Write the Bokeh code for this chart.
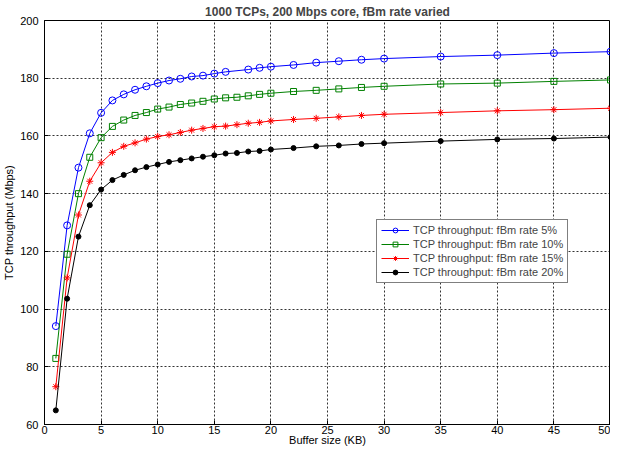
from bokeh.plotting import figure
from bokeh.embed import file_html
from bokeh.resources import INLINE
from bokeh.models import Range1d, FixedTicker, Legend, LegendItem

# ---- data ----
buffer_kb_5 = [1, 2, 3, 4, 5, 6, 7, 8, 9, 10, 11, 12, 13, 14, 15, 16,
               18, 19, 20, 22, 24, 26, 28, 30, 35, 40, 45, 50]
buffer_kb = [1, 2, 3, 4, 5, 6, 7, 8, 9, 10, 11, 12, 13, 14, 15, 16, 17,
             18, 19, 20, 22, 24, 26, 28, 30, 35, 40, 45, 50]

tput_5 = [94.1, 129.0, 149.0, 160.9, 168.0, 172.3, 174.4, 176.0, 177.2, 178.3,
          179.2, 179.8, 180.6, 180.9, 181.6, 182.2, 183.0, 183.6, 184.0,
          184.6, 185.4, 185.9, 186.4, 186.8, 187.5, 188.0, 188.7, 189.2]
tput_10 = [82.9, 119.0, 140.0, 152.6, 159.4, 163.3, 165.5, 167.1, 168.1, 169.3,
           170.0, 170.9, 171.4, 172.0, 172.8, 173.2, 173.4, 173.9, 174.4, 174.8,
           175.4, 175.8, 176.3, 176.8, 177.2, 178.0, 178.3, 178.9, 179.4]
tput_15 = [73.1, 110.8, 132.6, 144.3, 150.7, 154.3, 156.4, 157.6, 158.9, 159.8,
           160.4, 161.2, 162.0, 162.6, 163.2, 163.4, 163.9, 164.4, 164.7, 165.2,
           165.7, 166.1, 166.6, 167.1, 167.5, 168.1, 168.7, 169.1, 169.6]
tput_20 = [64.9, 103.6, 125.1, 136.0, 141.4, 144.7, 146.5, 148.1, 149.2, 150.1,
           151.0, 151.6, 152.2, 152.8, 153.3, 153.9, 154.1, 154.6, 154.8, 155.3,
           155.8, 156.4, 156.7, 157.2, 157.5, 158.2, 158.8, 159.1, 159.6]

labels = ["TCP throughput: fBm rate 5%", "TCP throughput: fBm rate 10%",
          "TCP throughput: fBm rate 15%", "TCP throughput: fBm rate 20%"]
x_ticks = [0, 5, 10, 15, 20, 25, 30, 35, 40, 45, 50]
y_ticks = [60, 80, 100, 120, 140, 160, 180, 200]

FONT = "Liberation Sans"

p = figure(width=610, height=448, output_backend="svg", toolbar_location=None,
           x_range=Range1d(0, 50), y_range=Range1d(60, 200),
           min_border_left=42, min_border_right=0, min_border_top=0, min_border_bottom=0)

p.background_fill_color = "white"
p.border_fill_color = "white"
p.outline_line_color = "black"
p.outline_line_width = 1

p.title.text = "1000 TCPs, 200 Mbps core, fBm rate varied"
p.title.text_font = FONT
p.title.text_font_size = "12px"
p.title.text_font_style = "bold"
p.title.align = "center"
p.title.standoff = 4
p.title.offset = 0

for ax in (p.xaxis[0], p.yaxis[0]):
    ax.axis_line_color = "black"
    ax.major_tick_line_color = "black"
    ax.major_tick_in = 4
    ax.major_tick_out = 0
    ax.minor_tick_line_color = None
    ax.major_label_text_font = FONT
    ax.major_label_text_font_size = "11px"
    ax.major_label_text_color = "black"
    ax.axis_label_text_font = FONT
    ax.axis_label_text_font_size = "11px"
    ax.axis_label_text_font_style = "normal"
    ax.axis_label_text_color = "black"

p.xaxis.ticker = FixedTicker(ticks=x_ticks)
p.yaxis.ticker = FixedTicker(ticks=y_ticks)
p.xaxis.axis_label = "Buffer size (KB)"
p.yaxis.axis_label = "TCP throughput (Mbps)"
p.xaxis.major_label_standoff = 1
p.xaxis.axis_label_standoff = -3
p.yaxis.major_label_standoff = 6
p.yaxis.axis_label_standoff = 2

for g, t in ((p.xgrid[0], x_ticks), (p.ygrid[0], y_ticks)):
    g.grid_line_color = "black"
    g.grid_line_alpha = 0.8
    g.grid_line_dash = "2 2"
    g.grid_line_width = 1
    g.ticker = FixedTicker(ticks=t)

items = []
l1 = p.line(buffer_kb_5, tput_5, line_color="#0000FF", line_width=1)
m1 = p.scatter(buffer_kb_5, tput_5, marker="circle", size=7, line_color="#0000FF",
               fill_color=None, line_width=1)
items.append(LegendItem(label=labels[0], renderers=[l1, m1]))

l2 = p.line(buffer_kb, tput_10, line_color="#008000", line_width=1)
m2 = p.scatter(buffer_kb, tput_10, marker="square", size=6, line_color="#008000",
               fill_color=None, line_width=1)
items.append(LegendItem(label=labels[1], renderers=[l2, m2]))

l3 = p.line(buffer_kb, tput_15, line_color="#FF0000", line_width=1)
m3 = p.scatter(buffer_kb, tput_15, marker="asterisk", size=7, line_color="#FF0000",
               line_width=1)
items.append(LegendItem(label=labels[2], renderers=[l3, m3]))

l4 = p.line(buffer_kb, tput_20, line_color="black", line_width=1)
m4 = p.scatter(buffer_kb, tput_20, marker="circle", size=5, line_color="black",
               fill_color="black", line_width=1)
items.append(LegendItem(label=labels[3], renderers=[l4, m4]))

legend = Legend(items=items, location=(332, 141),
                label_text_font=FONT, label_text_font_size="11px",
                glyph_width=28, glyph_height=12, label_height=12,
                spacing=2, padding=4, margin=0, label_standoff=4,
                border_line_color="black", border_line_width=1,
                background_fill_color="white", background_fill_alpha=1.0)
p.add_layout(legend, "center")

open("out.html", "w").write(file_html(p, INLINE))
